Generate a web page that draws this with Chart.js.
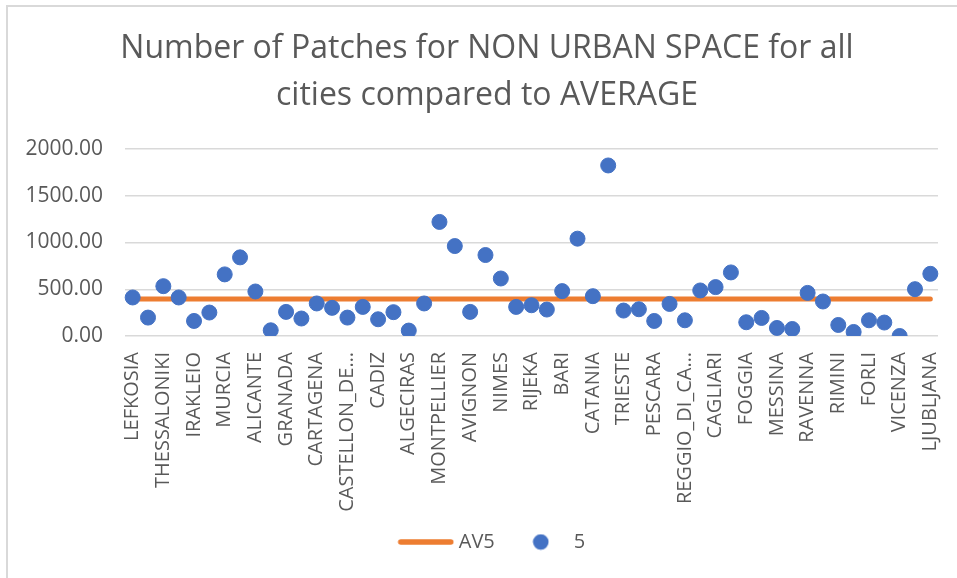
<!DOCTYPE html>
<html>
<head>
<meta charset="utf-8">
<script src="https://cdn.jsdelivr.net/npm/chart.js@4/dist/chart.umd.min.js"></script>
<style>
  html, body { margin: 0; padding: 0; background: #ffffff; overflow: hidden; }
  #frame { position: absolute; left: 6px; top: 5px; width: 1200px; height: 900px; border: 2px solid #d9d9d9; box-sizing: border-box; }
  #c { position: absolute; left: 0; top: 0; }
</style>
</head>
<body>
<div id="frame"></div>
<canvas id="c" width="957" height="578"></canvas>
<script>
// Categories (every other label visible in the reference; hidden ones unreadable)
const categories = [
  'LEFKOSIA', '', 'THESSALONIKI', '', 'IRAKLEIO', '', 'MURCIA', '', 'ALICANTE', '',
  'GRANADA', '', 'CARTAGENA', '', 'CASTELLON_DE…', '', 'CADIZ', '', 'ALGECIRAS', '',
  'MONTPELLIER', '', 'AVIGNON', '', 'NIMES', '', 'RIJEKA', '', 'BARI', '',
  'CATANIA', '', 'TRIESTE', '', 'PESCARA', '', 'REGGIO_DI_CA…', '', 'CAGLIARI', '',
  'FOGGIA', '', 'MESSINA', '', 'RAVENNA', '', 'RIMINI', '', 'FORLI', '',
  'VICENZA', '', 'LJUBLJANA'
];

// Series "5": number of patches for non urban space
const patches = [
  412, 197, 533, 412, 161, 251, 659, 841, 476, 61,
  258, 187, 348, 301, 197, 311, 179, 255, 58, 348,
  1220, 962, 258, 866, 615, 311, 329, 283, 480, 1041,
  426, 1824, 272, 286, 161, 343, 168, 487, 523, 680,
  147, 193, 86, 75, 461, 369, 118, 43, 168, 144,
  0, 501, 665
];

// Series "AV5": average
const average = [
  395, 395, 395, 395, 395, 395, 395, 395, 395, 395,
  395, 395, 395, 395, 395, 395, 395, 395, 395, 395,
  395, 395, 395, 395, 395, 395, 395, 395, 395, 395,
  395, 395, 395, 395, 395, 395, 395, 395, 395, 395,
  395, 395, 395, 395, 395, 395, 395, 395, 395, 395,
  395, 395, 395
];

const yTicks = [0, 500, 1000, 1500, 2000];
const seriesNames = ['AV5', '5'];
const titleLines = ['Number of Patches for NON URBAN SPACE for all', 'cities compared to AVERAGE'];

const ORANGE = '#ED7D31';
const BLUE = '#4472C4';
const TEXT = '#595959';
const FONT = "'Open Sans', 'Noto Sans', sans-serif";

// legend symbols
function makeLineImg() {
  const c = document.createElement('canvas');
  c.width = 57; c.height = 8;
  const g = c.getContext('2d');
  g.strokeStyle = ORANGE; g.lineWidth = 5.5; g.lineCap = 'round';
  g.beginPath(); g.moveTo(3.5, 4); g.lineTo(53.5, 4); g.stroke();
  return c;
}
function makeDotImg() {
  const c = document.createElement('canvas');
  c.width = 17; c.height = 17;
  const g = c.getContext('2d');
  g.fillStyle = BLUE;
  g.beginPath(); g.arc(8.5, 8.5, 7.8, 0, Math.PI * 2); g.fill();
  return c;
}
const lineImg = makeLineImg();
const dotImg = makeDotImg();

// nudge the legend box (layout only)
const legendShift = {
  id: 'legendShift',
  afterLayout(chart) {
    const lg = chart.legend;
    if (lg) { lg.left += 7; lg.right += 7; lg.top -= 12; lg.bottom -= 12; }
  }
};

new Chart(document.getElementById('c'), {
  type: 'line',
  plugins: [legendShift],
  data: {
    labels: categories,
    datasets: [
      {
        label: seriesNames[0],
        data: average,
        borderColor: ORANGE,
        backgroundColor: ORANGE,
        borderWidth: 5,
        borderCapStyle: 'round',
        pointRadius: 0,
        pointHoverRadius: 0,
        fill: false,
        order: 1
      },
      {
        label: seriesNames[1],
        data: patches,
        showLine: false,
        borderColor: BLUE,
        backgroundColor: BLUE,
        pointRadius: 7.5,
        pointBorderWidth: 1,
        pointBorderColor: BLUE,
        pointBackgroundColor: BLUE,
        order: 0
      }
    ]
  },
  options: {
    responsive: false,
    animation: false,
    devicePixelRatio: 1,
    layout: { padding: { left: 17, right: 0, top: 0, bottom: 4 } },
    plugins: {
      tooltip: { enabled: false },
      title: {
        display: true,
        text: titleLines,
        color: TEXT,
        font: { family: FONT, size: 32, weight: 'normal', lineHeight: '47px' },
        padding: { top: 25, bottom: 30 }
      },
      legend: {
        position: 'bottom',
        labels: {
          usePointStyle: true,
          pointStyleWidth: 46,
          padding: 23,
          color: TEXT,
          font: { family: FONT, size: 20 },
          generateLabels: function () {
            return [
              { text: seriesNames[0], pointStyle: lineImg, fillStyle: ORANGE, strokeStyle: ORANGE, lineWidth: 0, hidden: false, datasetIndex: 0, fontColor: TEXT },
              { text: seriesNames[1], pointStyle: dotImg, fillStyle: BLUE, strokeStyle: BLUE, lineWidth: 0, hidden: false, datasetIndex: 1, fontColor: TEXT }
            ];
          }
        }
      }
    },
    scales: {
      x: {
        type: 'category',
        offset: true,
        grid: { display: false, drawTicks: false },
        border: { display: false },
        ticks: {
          autoSkip: false,
          maxRotation: 90,
          minRotation: 90,
          padding: 16,
          color: TEXT,
          font: { family: FONT, size: 20 }
        },
        afterFit: function (s) { s.height = 185; s.paddingLeft = 0; s.paddingRight = 0; }
      },
      y: {
        type: 'linear',
        position: 'left',
        min: yTicks[0],
        max: yTicks[yTicks.length - 1],
        afterBuildTicks: function (s) { s.ticks = yTicks.map(v => ({ value: v })); },
        grid: { color: '#d9d9d9', lineWidth: 1.5, drawTicks: false },
        border: { display: false },
        ticks: {
          padding: 22,
          color: TEXT,
          font: { family: FONT, size: 21 },
          callback: function (v) { return Number(v).toFixed(2); }
        },
        afterFit: function (s) { s.width = 108; }
      },
      y2: {
        type: 'linear',
        position: 'right',
        display: true,
        grid: { display: false, drawTicks: false },
        border: { display: false },
        ticks: { display: false },
        afterFit: function (s) { s.width = 19; }
      }
    }
  }
});
</script>
</body>
</html>
